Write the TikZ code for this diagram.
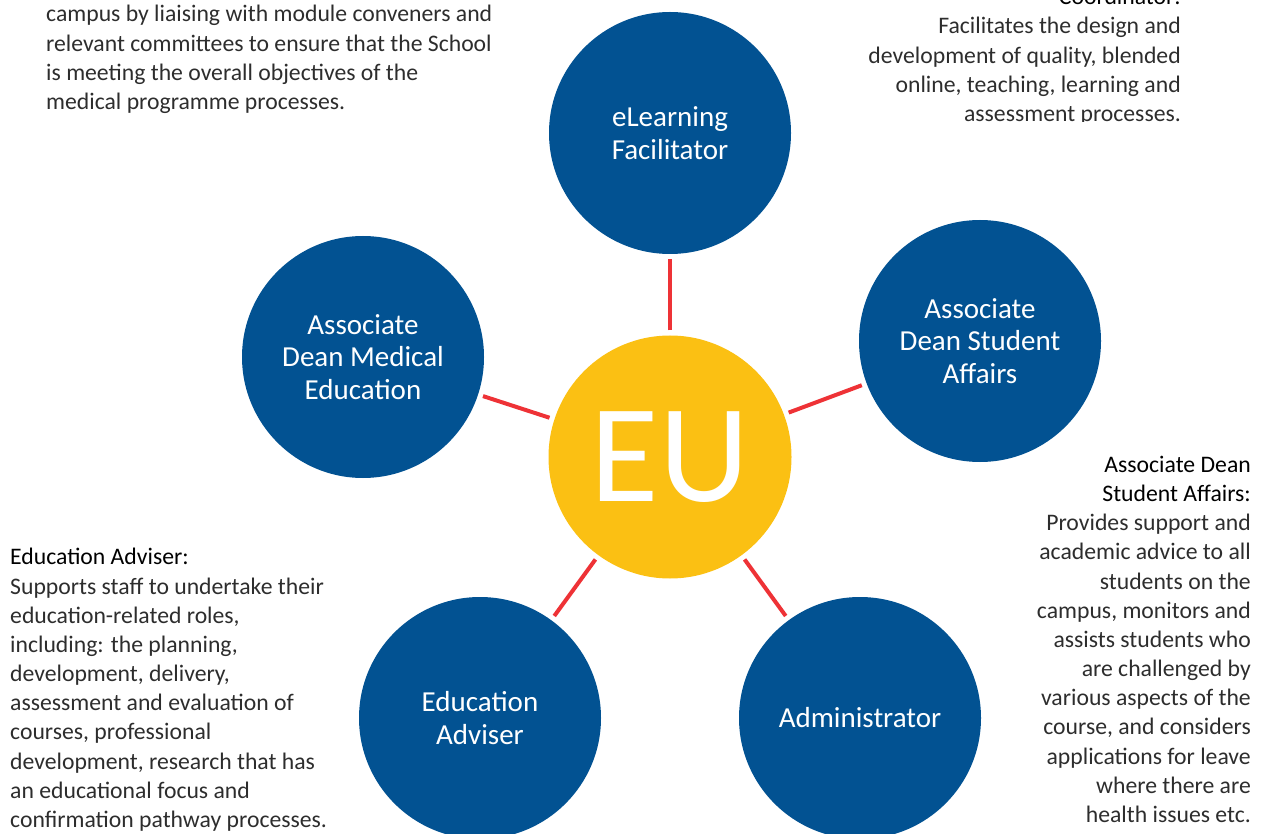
\documentclass[tikz,border=0pt]{standalone}
\usepackage{fontspec}
\setmainfont{Carlito}
\definecolor{eublue}{RGB}{2,82,146}
\definecolor{euyellow}{RGB}{251,192,19}
\definecolor{eured}{RGB}{238,50,54}
\definecolor{bodytext}{RGB}{45,45,45}
\begin{document}
\begin{tikzpicture}[x=1pt,y=-1pt,
  role/.style={circle, fill=eublue, text=white, minimum size=242pt, inner sep=0pt,
    align=center, font=\fontsize{29}{32.5}\selectfont},
  hub/.style={circle, fill=euyellow, text=white, minimum size=243pt, inner sep=0pt,
    font=\fontsize{140}{140}\selectfont},
  link/.style={draw=eured, line width=4pt, shorten <=5pt, shorten >=5pt},
  body/.style={inner sep=0pt, font=\fontsize{23.7}{29.17}\selectfont, text=bodytext},
]
\useasboundingbox (0,0) rectangle (1267,834);

\node[hub] (eu) at (670,457) {EU};
\node[role] (ela) at (670,133) {eLearning\\Facilitator};
\node[role] (adsa) at (980,341) {Associate\\Dean Student\\Affairs};
\node[role] (adme) at (363,357) {Associate\\Dean Medical\\Education};
\node[role] (ea) at (480,718) {Education\\Adviser};
\node[role] (adm) at (860,718) {Administrator};

\draw[link] (eu) -- (ela);
\draw[link] (eu) -- (adsa);
\draw[link] (eu) -- (adme);
\draw[link] (eu) -- (ea);
\draw[link] (eu) -- (adm);

\node[body, anchor=base west, align=left] (tl) at (46,109.5)
  {campus by liaising with module conveners and\\
   relevant committees to ensure that the School\\
   is meeting the overall objectives of the\\
   medical programme processes.};

\begin{scope}
\clip (840,-10) rectangle (1267,122);
\node[body, anchor=base east, align=right] (tr) at (1181,121.5)
  {{\color{black}Coordinator:}\\
   Facilitates the design and\\
   development of quality, blended\\
   online, teaching, learning and\\
   assessment processes.};
\end{scope}

\node[body, anchor=base east, align=right] (rt) at (1251,822.5)
  {{\color{black}Associate Dean}\\
   {\color{black}Student Affairs:}\\
   Provides support and\\
   academic advice to all\\
   students on the\\
   campus, monitors and\\
   assists students who\\
   are challenged by\\
   various aspects of the\\
   course, and considers\\
   applications for leave\\
   where there are\\
   health issues etc.};

\node[body, anchor=base west, align=left] (lt) at (10,827.5)
  {{\color{black}Education Adviser:}\\
   Supports staff to undertake their\\
   education-related roles,\\
   including: the planning,\\
   development, delivery,\\
   assessment and evaluation of\\
   courses, professional\\
   development, research that has\\
   an educational focus and\\
   confirmation pathway processes.};
\end{tikzpicture}
\end{document}
